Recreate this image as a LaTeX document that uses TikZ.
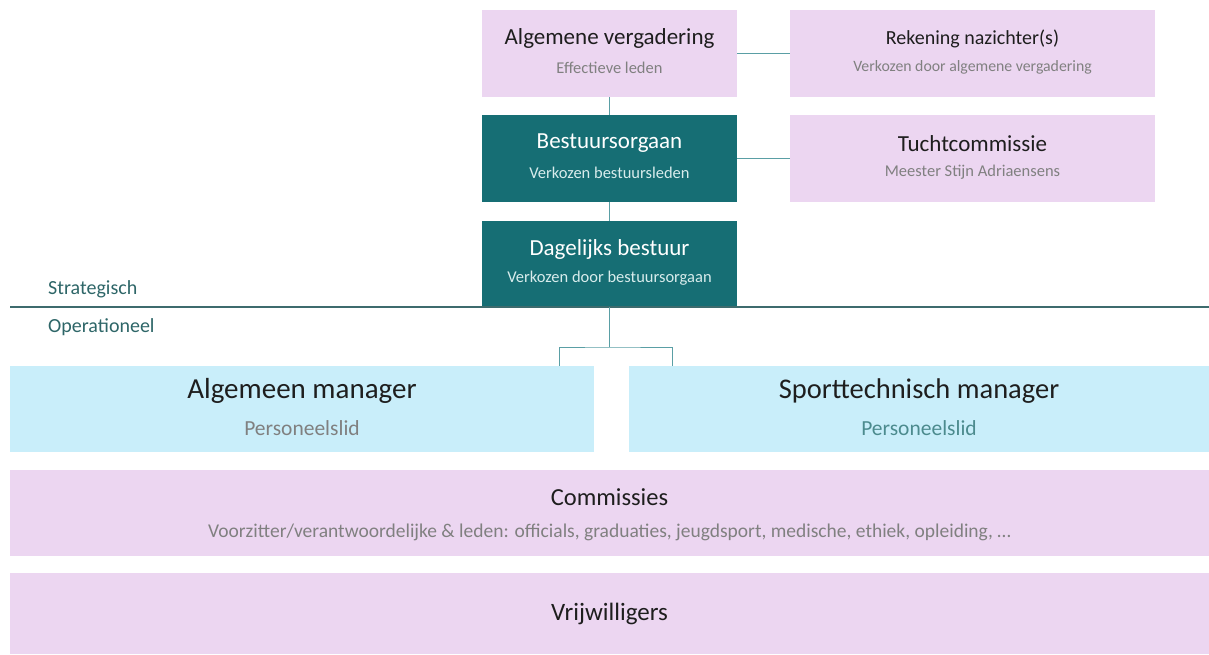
\documentclass[tikz,border=0pt]{standalone}
\usepackage{fontspec}
\setmainfont{Carlito}
\usetikzlibrary{calc}
\definecolor{pinkbg}{HTML}{ECD6F1}
\definecolor{bluebg}{HTML}{C9EEFA}
\definecolor{tealbg}{HTML}{166E74}
\definecolor{conn}{HTML}{5A9FA5}
\definecolor{divline}{HTML}{3D6B6D}
\definecolor{subgray}{HTML}{808080}
\definecolor{titleblk}{HTML}{1E1E1E}
\definecolor{tealsub}{HTML}{D8ECEC}
\definecolor{leveltxt}{HTML}{2E6668}
\definecolor{persteal}{HTML}{4C8B8E}
\begin{document}
\begin{tikzpicture}[x=1pt,y=-1pt,
  boxbase/.style={rectangle, inner sep=0pt, draw=none},
  pinkbox/.style={boxbase, fill=pinkbg},
  bluebox/.style={boxbase, fill=bluebg},
  tealbox/.style={boxbase, fill=tealbg},
  ttl/.style={inner sep=0pt, text=titleblk, font=\fontsize{23}{27}\selectfont},
  sub/.style={inner sep=0pt, text=subgray, font=\fontsize{16.5}{20}\selectfont},
  wttl/.style={ttl, text=white},
  wsub/.style={sub, text=tealsub},
  bigttl/.style={inner sep=0pt, text=titleblk, font=\fontsize{29}{34}\selectfont},
  bigsub/.style={inner sep=0pt, text=subgray, font=\fontsize{21.5}{25}\selectfont},
  lvl/.style={inner sep=0pt, anchor=west, text=leveltxt, font=\fontsize{20}{24}\selectfont},
  cline/.style={draw=conn, line width=1pt}]
\useasboundingbox (0,0) rectangle (1209,654);
\fill[white] (0,0) rectangle (1209,654);

% boxes
\node[pinkbox, minimum width=255pt, minimum height=87pt] (av) at (609.5,53.5) {};
\node[pinkbox, minimum width=365pt, minimum height=87pt] (rn) at (972.5,53.5) {};
\node[tealbox, minimum width=255pt, minimum height=87pt] (bo) at (609.5,158.5) {};
\node[pinkbox, minimum width=365pt, minimum height=87pt] (tc) at (972.5,158.5) {};
\node[tealbox, minimum width=255pt, minimum height=86pt] (db) at (609.5,264) {};
\node[bluebox, minimum width=584pt, minimum height=86pt] (am) at (302,409) {};
\node[bluebox, minimum width=580pt, minimum height=86pt] (sm) at (919,409) {};
\node[pinkbox, minimum width=1199pt, minimum height=86pt] (cm) at (609.5,513) {};
\node[pinkbox, minimum width=1199pt, minimum height=81pt] (vw) at (609.5,613.5) {};

% texts
\node[ttl] (av-t) at ($(av)+(0,-15)$) {Algemene vergadering};
\node[sub] (av-s) at ($(av)+(0,14)$) {Effectieve leden};
\node[ttl, font=\fontsize{20}{24}\selectfont] (rn-t) at ($(rn)+(0,-15)$) {Rekening nazichter(s)};
\node[sub, font=\fontsize{15.8}{19}\selectfont] (rn-s) at ($(rn)+(0,14)$) {Verkozen door algemene vergadering};
\node[wttl] (bo-t) at ($(bo)+(0,-15)$) {Bestuursorgaan};
\node[wsub] (bo-s) at ($(bo)+(0,14)$) {Verkozen bestuursleden};
\node[ttl] (tc-t) at ($(tc)+(0,-15)$) {Tuchtcommissie};
\node[sub] (tc-s) at ($(tc)+(0,14)$) {Meester Stijn Adriaensens};
\node[wttl] (db-t) at ($(db)+(0,-15)$) {Dagelijks bestuur};
\node[wsub] (db-s) at ($(db)+(0,14)$) {Verkozen door bestuursorgaan};
\node[bigttl] (am-t) at ($(am)+(0,-18)$) {Algemeen manager};
\node[bigsub] (am-s) at ($(am)+(0,19)$) {Personeelslid};
\node[bigttl, font=\fontsize{28.5}{33}\selectfont] (sm-t) at ($(sm)+(0,-18)$) {Sporttechnisch manager};
\node[bigsub, text=persteal] (sm-s) at ($(sm)+(0,19)$) {Personeelslid};
\node[bigttl, font=\fontsize{24.5}{29}\selectfont] (cm-t) at ($(cm)+(0,-16)$) {Commissies};
\node[sub, font=\fontsize{19.5}{23}\selectfont] (cm-s) at ($(cm)+(0,19)$) {Voorzitter/verantwoordelijke \& leden: officials, graduaties, jeugdsport, medische, ethiek, opleiding, …};
\node[bigttl, font=\fontsize{25}{30}\selectfont] (vw-t) at (vw) {Vrijwilligers};

% level labels and divider
\node[lvl] (strat) at (48,289) {Strategisch};
\node[lvl] (oper) at (48,327) {Operationeel};
\coordinate (dl) at (10,307);
\coordinate (dr) at (1209,307);
\draw[divline, line width=1.8pt] (dl) -- (dr);

% connectors
\draw[cline] (av.south) -- (bo.north);
\draw[cline] (bo.south) -- (db.north);
\draw[cline] (av.east) -- (rn.west);
\draw[cline] (bo.east) -- (tc.west);
\coordinate (jn) at (609.5,347);
\coordinate (ja) at (559,366);
\coordinate (js) at (672,366);
\draw[cline] (db.south) -- (jn);
\draw[cline] (ja) |- (jn) -| (js);
\end{tikzpicture}
\end{document}
